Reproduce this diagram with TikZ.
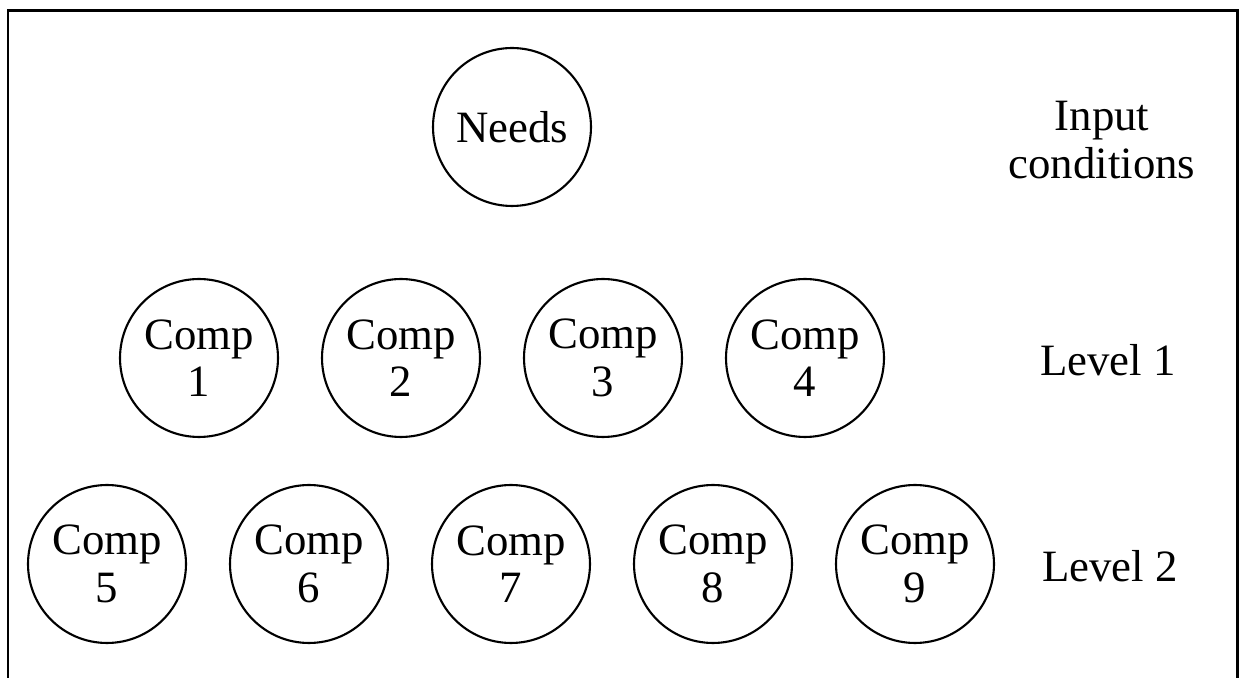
\documentclass[tikz,border=0pt]{standalone}
\usepackage{fontspec}
\setmainfont{Liberation Serif}
\usetikzlibrary{positioning}

\begin{document}
\begin{tikzpicture}[
    x = 0.02cm, y = -0.02cm,
    every node/.style = {font = \fontsize{25.5}{27}\selectfont},
    comp/.style = {draw, circle, line width = 1.2pt, inner sep = 0pt,
      minimum size = 3.16cm, align = center},
    lvl/.style = {anchor = west, align = left}
  ]
  \useasboundingbox (0,0) rectangle (1242,678);
  % frame, open at the bottom
  \draw[line width = 1.7pt] (8,678) -- (8,11) -- (1237,11) -- (1237,678);

  \node[comp] (Needs) at (512,127) {Needs};
  \foreach \i in {1,...,4}
    \node[comp] (C\i) at (199+202*\i-202,358) {Comp\\\i};
  \foreach \i in {5,...,9}
    \node[comp] (C\i) at (107+202*\i-1010,564) {Comp\\\i};

  \node[align = center] (Input) at (1102,140) {Input\\conditions};
  \node[lvl] (L1) at (1034,360) {Level 1};
  \node[lvl] (L2) at (1036,566) {Level 2};
\end{tikzpicture}
\end{document}
